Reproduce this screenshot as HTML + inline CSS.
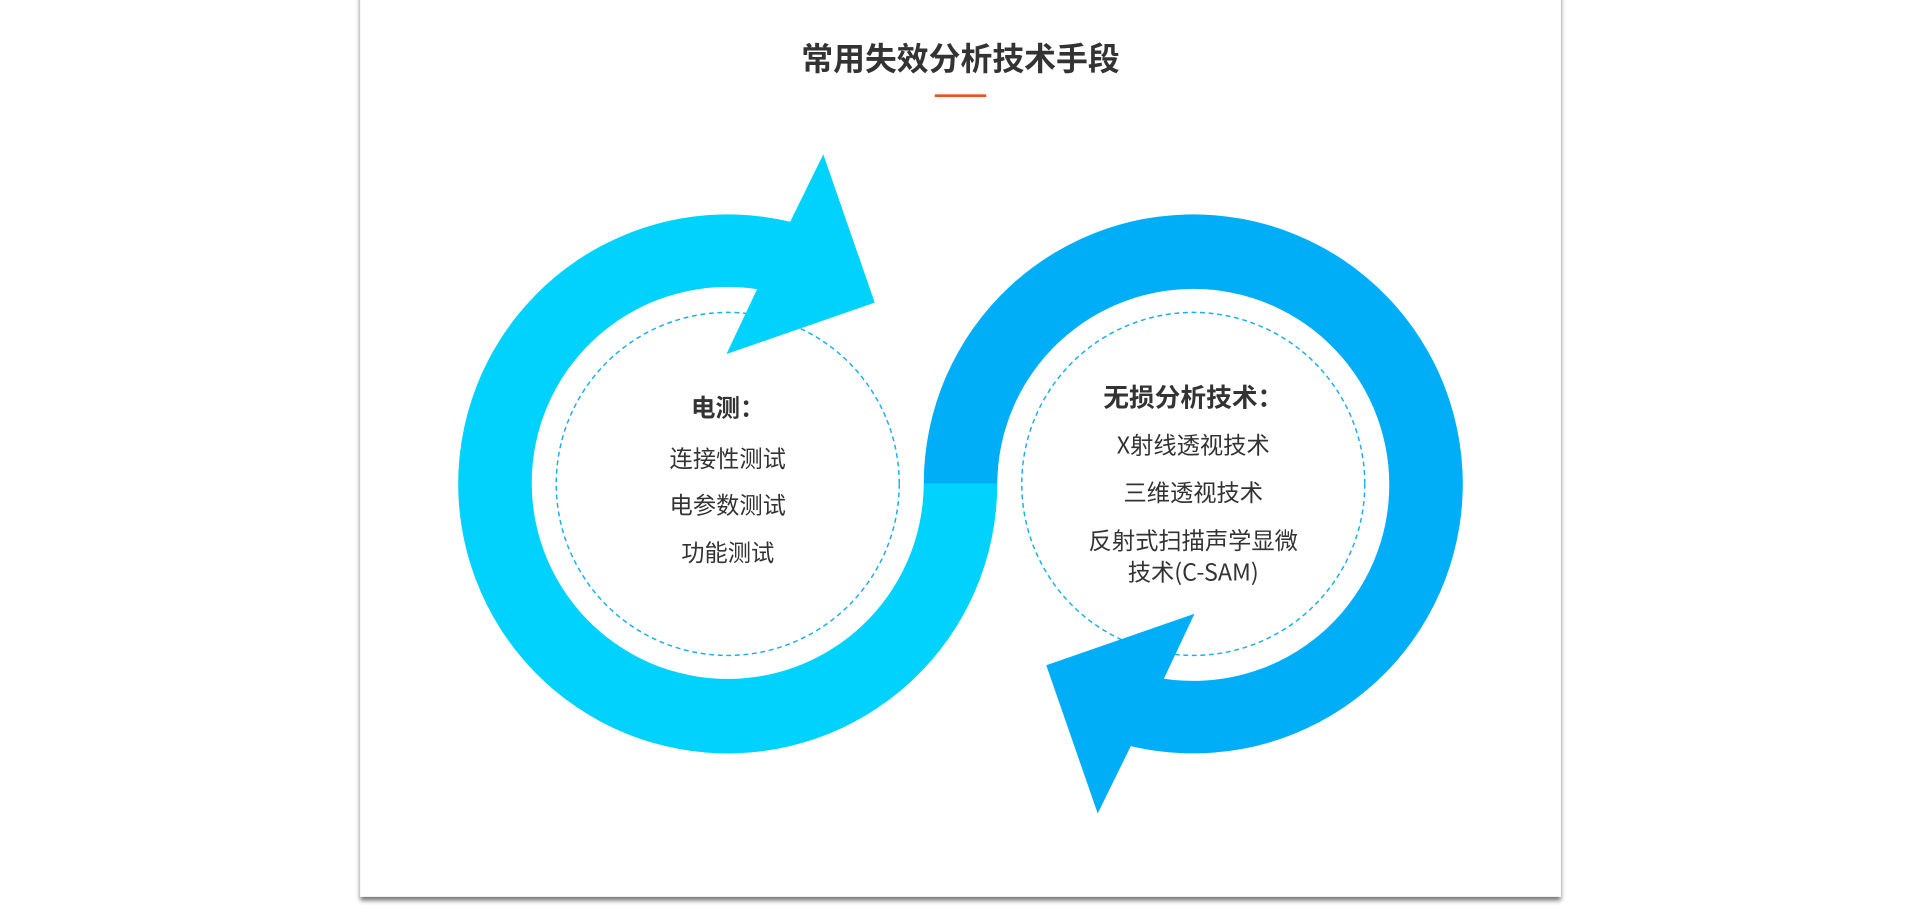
<!DOCTYPE html>
<html><head><meta charset="utf-8">
<style>
html,body{margin:0;padding:0;background:#fff;width:1921px;height:913px;overflow:hidden}
svg{display:block}
text{font-family:"Noto Sans CJK SC","Liberation Sans",sans-serif;fill:#333}
</style></head>
<body>
<svg width="1921" height="913" viewBox="0 0 1568 745.25" xmlns="http://www.w3.org/2000/svg">
<defs>
<filter id="sh" x="-5%" y="-5%" width="110%" height="110%">
<feDropShadow dx="0" dy="3" stdDeviation="2" flood-color="#000" flood-opacity="0.55"/>
</filter>
</defs>
<rect x="294" y="-10" width="980" height="742" fill="#fff" filter="url(#sh)"/>
<text x="784" y="57" font-size="26" font-weight="bold" text-anchor="middle">常用失效分析技术手段</text>
<rect x="763" y="77" width="42" height="2.2" fill="#e8541c"/>

<circle cx="594" cy="395" r="140" fill="none" stroke="#1aaef0" stroke-width="1.2" stroke-dasharray="4 3"/>
<circle cx="974" cy="395" r="140" fill="none" stroke="#1aaef0" stroke-width="1.2" stroke-dasharray="4 3"/>

<path fill="#00d2fe" d="M645,181 L672,126 L714,247 L593,289 L618,236 A160 160 0 1 0 754,395 L814,395 A220 220 0 1 1 645,181 Z"/>
<path fill="#00aef8" transform="rotate(180 784 395)" d="M645,181 L672,126 L714,247 L593,289 L618,236 A160 160 0 1 0 754,395 L814,395 A220 220 0 1 1 645,181 Z"/>

<text x="594" y="340" font-size="20" font-weight="bold" text-anchor="middle">电测：</text>
<text x="594" y="381" font-size="19" text-anchor="middle">连接性测试</text>
<text x="594" y="419" font-size="19" text-anchor="middle">电参数测试</text>
<text x="594" y="458" font-size="19" text-anchor="middle">功能测试</text>

<text x="974" y="332" font-size="21" font-weight="bold" text-anchor="middle">无损分析技术：</text>
<text x="974" y="370" font-size="19" text-anchor="middle">X射线透视技术</text>
<text x="974" y="409" font-size="19" text-anchor="middle">三维透视技术</text>
<text x="974" y="448" font-size="19" text-anchor="middle">反射式扫描声学显微</text>
<text x="974" y="474" font-size="19" text-anchor="middle">技术(C-SAM)</text>
</svg>
</body></html>
